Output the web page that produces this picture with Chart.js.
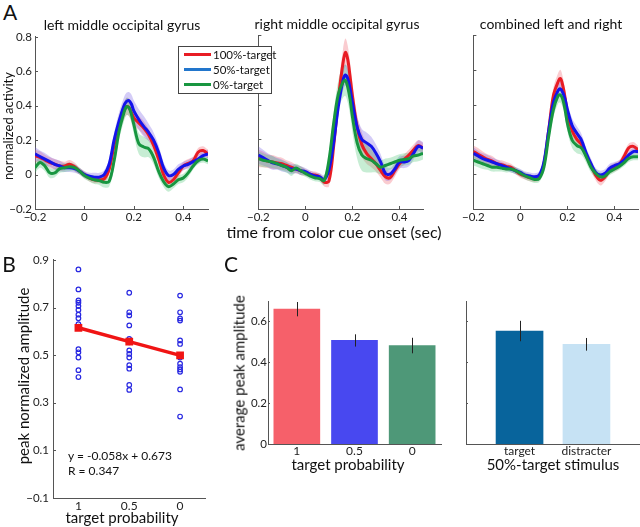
<!DOCTYPE html>
<html><head><meta charset="utf-8">
<script src="https://cdn.jsdelivr.net/npm/chart.js@4/dist/chart.umd.min.js"></script>
<style>
html,body{margin:0;padding:0;background:#fff;}
#wrap{position:relative;width:640px;height:527px;overflow:hidden;font-family:Lato,"Open Sans",sans-serif;color:#111;}
canvas{position:absolute;}
.t{position:absolute;white-space:nowrap;line-height:1;transform:translate(-50%,-50%);}
.r{transform:translate(-50%,-50%) rotate(-90deg);}
.l{position:absolute;white-space:nowrap;line-height:1;transform:translate(0,-50%);}
#legend{position:absolute;left:178px;top:46px;width:94px;height:48px;box-sizing:border-box;border:1px solid #444;background:#fff;z-index:10;}
#legend .e{position:absolute;left:0;height:14px;width:94px;}
#legend .sw{position:absolute;left:5px;top:5px;width:27px;height:3px;}
#legend .tx{position:absolute;left:34px;top:0;font-size:11.5px;line-height:14px;white-space:nowrap;}
</style></head>
<body><div id="wrap">
<canvas id="aL"></canvas><canvas id="aM"></canvas><canvas id="aR"></canvas>
<canvas id="bS"></canvas><canvas id="cL"></canvas><canvas id="cR"></canvas>

<div class="t" style="left:10px;top:11px;font-size:21px;">A</div>
<div class="t" style="left:9px;top:263px;font-size:21px;">B</div>
<div class="t" style="left:231px;top:263px;font-size:21px;">C</div>
<div class="t" style="left:122px;top:25px;font-size:14px;">left middle occipital gyrus</div>
<div class="t" style="left:337px;top:24px;font-size:14px;">right middle occipital gyrus</div>
<div class="t" style="left:551px;top:24px;font-size:14px;">combined left and right</div>
<div class="t r" style="left:8px;top:126px;font-size:13px;">normalized activity</div>
<div class="t" style="left:334px;top:232px;font-size:16px;">time from color cue onset (sec)</div>
<div class="t r" style="left:23px;top:376px;font-size:15px;">peak normalized amplitude</div>
<div class="t" style="left:122px;top:517px;font-size:15px;">target probability</div>
<div class="l" style="left:68px;top:456px;font-size:12px;">y = -0.058x + 0.673</div>
<div class="l" style="left:68px;top:471px;font-size:12px;">R = 0.347</div>
<div class="t r" style="left:239px;top:373px;font-size:15px;">average peak amplitude</div>
<div class="t" style="left:348px;top:464px;font-size:15px;">target probability</div>
<div class="t" style="left:553px;top:464px;font-size:15px;">50%-target stimulus</div>

<div id="legend">
 <div class="e" style="top:1px"><span class="sw" style="background:rgb(232,28,36)"></span><span class="tx">100%-target</span></div>
 <div class="e" style="top:16px"><span class="sw" style="background:rgb(34,118,204)"></span><span class="tx">50%-target</span></div>
 <div class="e" style="top:31px"><span class="sw" style="background:rgb(24,150,64)"></span><span class="tx">0%-target</span></div>
</div>
</div>
<script>
// ---------- DATA ----------
const T = [-0.2,-0.18,-0.16,-0.14,-0.12,-0.1,-0.08,-0.06,-0.04,-0.02,
           0,0.02,0.04,0.06,0.08,0.1,0.12,0.14,0.16,0.17,
           0.18,0.19,0.2,0.22,0.24,0.26,0.28,0.3,0.32,0.34,
           0.36,0.38,0.4,0.42,0.44,0.46,0.48,0.5];
const timeTicks = [-0.2, 0, 0.2, 0.4];
const activityTicks = [-0.2, 0, 0.2, 0.4, 0.6, 0.8];

const leftRed = [0.11,0.10,0.085,0.07,0.06,0.05,0.05,0.06,0.045,0.02,
  0.0,-0.02,-0.03,-0.03,-0.025,0.03,0.17,0.29,0.37,0.395,
  0.39,0.36,0.33,0.30,0.27,0.23,0.17,0.09,0.0,-0.045,
  -0.03,0.01,0.05,0.065,0.08,0.13,0.14,0.12];
const leftBlue = [0.12,0.105,0.09,0.075,0.06,0.05,0.04,0.04,0.035,0.02,
  0.0,-0.01,-0.015,-0.015,0.0,0.06,0.2,0.31,0.40,0.425,
  0.43,0.41,0.37,0.32,0.28,0.245,0.2,0.13,0.04,-0.005,
  0.0,0.03,0.05,0.06,0.075,0.09,0.11,0.12];
const leftGreen = [0.04,0.07,0.05,0.01,0.01,0.035,0.04,0.045,0.04,0.02,
  -0.005,-0.02,-0.03,-0.035,-0.045,-0.04,0.08,0.25,0.36,0.395,
  0.39,0.35,0.29,0.18,0.16,0.15,0.1,0.02,-0.04,-0.07,
  -0.055,-0.03,-0.02,0.01,0.05,0.08,0.09,0.08];
const leftRedSem = [.035,.035,.03,.03,.03,.03,.025,.025,.025,.02, .02,.02,.02,.02,.025,.03,.04,.05,.05,.05, .05,.05,.045,.04,.04,.035,.035,.035,.035,.03, .03,.03,.025,.025,.025,.025,.025,.025];
const leftBlueSem = [.04,.035,.035,.03,.03,.03,.025,.025,.025,.02, .02,.02,.025,.025,.025,.03,.04,.05,.05,.05, .05,.055,.06,.06,.06,.05,.045,.04,.035,.03, .03,.03,.025,.025,.025,.025,.025,.025];
const leftGreenSem = [.03,.03,.03,.03,.025,.025,.025,.025,.02,.02, .02,.02,.025,.025,.03,.03,.04,.05,.05,.05, .05,.05,.055,.06,.06,.05,.04,.035,.03,.03, .025,.025,.025,.025,.02,.02,.02,.02];

const midRed = [0.09,0.085,0.075,0.07,0.065,0.06,0.05,0.04,0.03,0.02,
  0.01,0.0,-0.005,-0.015,-0.045,-0.04,0.16,0.43,0.64,0.70,
  0.66,0.56,0.45,0.27,0.17,0.12,0.09,0.06,0.02,-0.015,
  -0.02,0.02,0.06,0.085,0.11,0.14,0.165,0.15];
const midBlue = [0.11,0.095,0.08,0.065,0.06,0.05,0.04,0.03,0.03,0.02,
  0.015,0.0,-0.01,-0.015,-0.03,0.025,0.18,0.39,0.54,0.57,
  0.55,0.49,0.41,0.27,0.2,0.18,0.16,0.12,0.07,0.005,
  0.0,0.03,0.07,0.07,0.08,0.12,0.16,0.15];
const midGreen = [0.09,0.08,0.075,0.07,0.06,0.05,0.04,0.02,0.035,0.02,
  0.005,-0.01,-0.02,-0.025,-0.035,0.08,0.29,0.46,0.53,0.54,
  0.50,0.43,0.33,0.18,0.11,0.09,0.08,0.06,0.04,0.05,
  0.06,0.07,0.08,0.085,0.09,0.105,0.11,0.12];
const midRedSem = [.05,.045,.04,.04,.035,.035,.03,.03,.025,.025, .02,.02,.02,.02,.025,.03,.05,.07,.08,.08, .08,.08,.075,.07,.07,.06,.05,.045,.04,.04, .035,.035,.03,.03,.03,.03,.03,.03];
const midBlueSem = [.05,.045,.04,.04,.035,.035,.03,.03,.025,.025, .02,.02,.02,.02,.025,.03,.05,.06,.06,.06, .06,.06,.06,.06,.06,.06,.055,.05,.045,.04, .035,.035,.035,.035,.035,.035,.035,.035];
const midGreenSem = [.04,.04,.035,.035,.03,.03,.03,.03,.025,.025, .02,.02,.02,.02,.025,.04,.06,.08,.09,.09, .09,.09,.09,.09,.09,.08,.07,.05,.04,.04, .035,.035,.035,.035,.035,.035,.035,.035];

const combRed = [0.13,0.115,0.1,0.085,0.075,0.06,0.055,0.045,0.04,0.02,
  0.0,-0.01,-0.02,-0.025,-0.015,0.06,0.25,0.45,0.53,0.55,
  0.51,0.44,0.35,0.25,0.2,0.17,0.11,0.05,-0.005,-0.035,
  -0.015,0.025,0.04,0.055,0.1,0.15,0.16,0.14];
const combBlue = [0.12,0.105,0.09,0.08,0.07,0.06,0.05,0.04,0.03,0.02,
  0.01,-0.005,-0.01,-0.015,-0.005,0.07,0.25,0.41,0.48,0.49,
  0.47,0.43,0.37,0.28,0.235,0.195,0.12,0.06,0.01,-0.005,
  0.005,0.035,0.05,0.06,0.08,0.11,0.13,0.13];
const combGreen = [0.08,0.07,0.06,0.05,0.04,0.04,0.035,0.03,0.03,0.02,
  0.005,-0.01,-0.02,-0.03,-0.025,0.04,0.215,0.37,0.45,0.456,
  0.43,0.37,0.29,0.195,0.165,0.15,0.1,0.04,0.005,-0.015,
  -0.01,0.015,0.03,0.045,0.065,0.09,0.1,0.1];
const combRedSem = [.035,.035,.03,.03,.03,.025,.025,.025,.02,.02, .02,.02,.02,.02,.02,.025,.035,.045,.05,.05, .05,.045,.04,.035,.035,.03,.03,.03,.03,.03, .025,.025,.025,.025,.025,.025,.025,.025];
const combBlueSem = [.035,.03,.03,.03,.025,.025,.02,.02,.02,.02, .02,.02,.02,.02,.02,.025,.035,.04,.04,.04, .04,.04,.04,.04,.04,.035,.03,.03,.025,.025, .025,.025,.02,.02,.02,.02,.02,.02];
const combGreenSem = [.03,.03,.03,.025,.025,.025,.02,.02,.02,.02, .02,.02,.02,.02,.02,.025,.035,.045,.045,.045, .045,.045,.045,.045,.045,.04,.035,.03,.025,.025, .02,.02,.02,.02,.02,.02,.02,.02];

// Panel B
const probPositions = [1, 2, 3];
const probLabels = ['1', '0.5', '0'];
const peakProb100 = [0.86,0.776,0.73,0.72,0.706,0.69,0.67,0.655,0.63,0.62,0.525,0.512,0.49,0.437,0.408];
const peakProb50 = [0.762,0.68,0.667,0.625,0.568,0.554,0.52,0.505,0.49,0.458,0.443,0.375,0.354];
const peakProb0 = [0.75,0.68,0.654,0.645,0.562,0.547,0.5,0.49,0.464,0.45,0.44,0.43,0.356,0.242];
const fitLine = [0.615, 0.557, 0.499];
const peakTicks = [-0.1, 0.1, 0.3, 0.5, 0.7, 0.9];

// Panel C
const cLeftLabels = ['1', '0.5', '0'];
const cLeftVals = [0.66, 0.507, 0.482];
const cLeftErr = [0.035, 0.03, 0.038];
const cRightPos = [1, 2];
const cRightLabels = ['target', 'distracter'];
const cRightVals = [0.553, 0.488];
const cRightErr = [0.05, 0.031];
const ampTicks = [0, 0.2, 0.4, 0.6];

// ---------- STYLE ----------
const RED = 'rgb(232,28,36)', BLUE = 'rgb(20,20,235)', GREEN = 'rgb(24,150,64)';
const RED_B = 'rgba(240,110,120,0.35)', BLUE_B = 'rgba(120,95,230,0.32)', GREEN_B = 'rgba(80,200,120,0.32)';
const AX = '#555';
Chart.defaults.font.family = 'Lato, "Open Sans", sans-serif';
Chart.defaults.font.size = 11;
Chart.defaults.color = '#222';
Chart.defaults.animation = false;

const fmt = v => { const s = (Math.round(v*10)/10).toString(); return s.replace('-', '\u2212'); };

const inTicks = {
  id: 'inTicks',
  afterDraw(chart) {
    const ctx = chart.ctx, ca = chart.chartArea;
    ctx.save(); ctx.strokeStyle = AX; ctx.lineWidth = 1;
    for (const s of Object.values(chart.scales)) {
      const len = s.options.inTickLen;
      if (!len) continue;
      for (const t of s.ticks) {
        const p = Math.round(s.getPixelForValue(t.value)) + 0.5;
        ctx.beginPath();
        if (s.isHorizontal()) { ctx.moveTo(p, ca.bottom); ctx.lineTo(p, ca.bottom - len); }
        else { ctx.moveTo(ca.left, p); ctx.lineTo(ca.left + len, p); }
        ctx.stroke();
      }
    }
    ctx.restore();
  }
};
const errBars = {
  id: 'errBars',
  afterDatasetsDraw(chart) {
    const ctx = chart.ctx;
    chart.data.datasets.forEach((ds, i) => {
      if (!ds.err) return;
      const meta = chart.getDatasetMeta(i), ys = chart.scales[meta.yAxisID];
      meta.data.forEach((el, j) => {
        const v = ds.vals[j], e = ds.err[j];
        const x = Math.round(el.x) + 0.5;
        ctx.save(); ctx.strokeStyle = '#222'; ctx.lineWidth = 1;
        ctx.beginPath(); ctx.moveTo(x, ys.getPixelForValue(v - e)); ctx.lineTo(x, ys.getPixelForValue(v + e)); ctx.stroke();
        ctx.restore();
      });
    });
  }
};

function place(id, plot, pad) {
  const c = document.getElementById(id);
  const W = plot.w + pad.l + pad.r, H = plot.h + pad.t + pad.b;
  c.width = W; c.height = H;
  c.style.width = W + 'px'; c.style.height = H + 'px';
  c.style.left = (plot.l - pad.l) + 'px'; c.style.top = (plot.t - pad.t) + 'px';
  return c;
}
function scaleBase(pad, isX, extra) {
  return Object.assign({
    grid: { display: false, drawTicks: false, tickLength: 0 },
    border: { display: true, color: AX, width: 1 },
    afterFit: s => { if (isX) s.height = pad.b; else s.width = pad.l; }
  }, extra);
}

function panelA(id, plot, pad, red, blue, green, sr, sb, sg, showY) {
  place(id, plot, pad);
  const pts = arr => T.map((t, i) => ({ x: t, y: arr[i] }));
  const lo = (a, s) => T.map((t, i) => ({ x: t, y: a[i] - s[i] }));
  const hi = (a, s) => T.map((t, i) => ({ x: t, y: a[i] + s[i] }));
  const line = (d, c) => ({ data: d, borderColor: c, borderWidth: 3, pointRadius: 0, tension: 0.35, fill: false, order: 0 });
  const band = (d, c, f) => ({ data: d, borderWidth: 0, borderColor: 'rgba(0,0,0,0)', backgroundColor: c, pointRadius: 0, tension: 0.35, fill: f, order: 1 });
  new Chart(document.getElementById(id), {
    type: 'line',
    data: { datasets: [
      line(pts(green), GREEN), line(pts(blue), BLUE), line(pts(red), RED),
      band(lo(green, sg), GREEN_B, false), band(hi(green, sg), GREEN_B, 3),
      band(lo(blue, sb), BLUE_B, false), band(hi(blue, sb), BLUE_B, 5),
      band(lo(red, sr), RED_B, false), band(hi(red, sr), RED_B, 7)
    ]},
    options: {
      responsive: false, events: [],
      layout: { padding: { top: pad.t, right: pad.r, left: 0, bottom: 0 } },
      plugins: { legend: { display: false }, tooltip: { enabled: false } },
      scales: {
        x: scaleBase(pad, true, { type: 'linear', min: -0.2, max: 0.5, inTickLen: 3,
          afterBuildTicks: s => { s.ticks = timeTicks.map(v => ({ value: v })); },
          ticks: { padding: 1, maxRotation: 0, callback: v => fmt(v), font: { size: 11.5 } } }),
        y: scaleBase(pad, false, { type: 'linear', min: -0.2, max: 0.8, inTickLen: 3,
          afterBuildTicks: s => { s.ticks = activityTicks.map(v => ({ value: v })); },
          ticks: { display: showY, padding: 3, callback: v => fmt(v), font: { size: 11.5 } } })
      }
    },
    plugins: [inTicks]
  });
}

panelA('aL', { l: 35, t: 35, w: 173, h: 174 }, { l: 35, t: 8, r: 4, b: 18 }, leftRed, leftBlue, leftGreen, leftRedSem, leftBlueSem, leftGreenSem, true);
panelA('aM', { l: 250, t: 35, w: 173, h: 174 }, { l: 4, t: 8, r: 4, b: 18 }, midRed, midBlue, midGreen, midRedSem, midBlueSem, midGreenSem, false);
panelA('aR', { l: 465, t: 35, w: 173, h: 174 }, { l: 4, t: 8, r: 2, b: 18 }, combRed, combBlue, combGreen, combRedSem, combBlueSem, combGreenSem, false);

// ---------- Panel B ----------
(function () {
  const plot = { l: 53, t: 257, w: 156, h: 241 }, pad = { l: 40, t: 8, r: 4, b: 16 };
  place('bS', plot, pad);
  const col = (x, arr) => arr.map(y => ({ x, y }));
  const dot = d => ({ type: 'scatter', data: d, pointRadius: 2.3, pointBorderWidth: 1.2, pointBorderColor: 'rgb(40,40,225)', pointBackgroundColor: 'rgba(0,0,0,0)', showLine: false });
  new Chart(document.getElementById('bS'), {
    type: 'scatter',
    data: { datasets: [
      { type: 'line', data: probPositions.map((x, i) => ({ x, y: fitLine[i] })), borderColor: 'rgb(240,20,20)', borderWidth: 3.5,
        pointStyle: 'rect', pointRadius: 3, pointBackgroundColor: 'rgb(240,20,20)', pointBorderColor: 'rgb(240,20,20)', tension: 0, fill: false },
      dot(col(probPositions[0], peakProb100)), dot(col(probPositions[1], peakProb50)), dot(col(probPositions[2], peakProb0))
    ]},
    options: {
      responsive: false, events: [],
      layout: { padding: { top: pad.t, right: pad.r, left: 0, bottom: 0 } },
      plugins: { legend: { display: false }, tooltip: { enabled: false } },
      scales: {
        x: scaleBase(pad, true, { type: 'linear', min: 0.5, max: 3.5,
          afterBuildTicks: s => { s.ticks = probPositions.map(v => ({ value: v })); },
          ticks: { padding: 1, maxRotation: 0, callback: v => probLabels[probPositions.indexOf(v)], font: { size: 12 } } }),
        y: scaleBase(pad, false, { type: 'linear', min: -0.1, max: 0.9, inTickLen: 3,
          afterBuildTicks: s => { s.ticks = peakTicks.map(v => ({ value: v })); },
          ticks: { padding: 4, callback: v => fmt(v), font: { size: 11.5 } } })
      }
    },
    plugins: [inTicks]
  });
})();

// ---------- Panel C ----------
(function () {
  const plot = { l: 268, t: 301, w: 173, h: 143 }, pad = { l: 30, t: 8, r: 4, b: 14 };
  place('cL', plot, pad);
  new Chart(document.getElementById('cL'), {
    type: 'bar',
    data: { labels: cLeftLabels, datasets: [{ data: cLeftVals, vals: cLeftVals, err: cLeftErr,
      backgroundColor: ['rgb(246,96,106)', 'rgb(72,72,240)', 'rgb(78,152,120)'], borderWidth: 0, barThickness: 46 }] },
    options: {
      responsive: false, events: [],
      layout: { padding: { top: pad.t, right: pad.r, left: 0, bottom: 0 } },
      plugins: { legend: { display: false }, tooltip: { enabled: false } },
      scales: {
        x: scaleBase(pad, true, { ticks: { padding: 0, maxRotation: 0, font: { size: 12 } } }),
        y: scaleBase(pad, false, { type: 'linear', min: 0, max: 0.7, inTickLen: 2,
          afterBuildTicks: s => { s.ticks = ampTicks.map(v => ({ value: v })); },
          ticks: { padding: 1, callback: v => fmt(v), font: { size: 11.5 } } })
      }
    },
    plugins: [inTicks, errBars]
  });
})();
(function () {
  const plot = { l: 466, t: 301, w: 174, h: 143 }, pad = { l: 4, t: 8, r: 0, b: 14 };
  place('cR', plot, pad);
  new Chart(document.getElementById('cR'), {
    type: 'bar',
    data: { datasets: [{ data: cRightPos.map((x, i) => ({ x, y: cRightVals[i] })), vals: cRightVals, err: cRightErr,
      backgroundColor: ['rgb(8,100,156)', 'rgb(198,226,244)'], borderWidth: 0, barThickness: 47 }] },
    options: {
      responsive: false, events: [],
      layout: { padding: { top: pad.t, right: pad.r, left: 0, bottom: 0 } },
      plugins: { legend: { display: false }, tooltip: { enabled: false } },
      scales: {
        x: scaleBase(pad, true, { type: 'linear', min: 0.2, max: 2.8, offset: false,
          afterBuildTicks: s => { s.ticks = cRightPos.map(v => ({ value: v })); },
          ticks: { padding: 0, maxRotation: 0, callback: v => cRightLabels[cRightPos.indexOf(v)], font: { size: 12 } } }),
        y: scaleBase(pad, false, { type: 'linear', min: 0, max: 0.7, inTickLen: 2,
          afterBuildTicks: s => { s.ticks = ampTicks.map(v => ({ value: v })); },
          ticks: { display: false } })
      }
    },
    plugins: [inTicks, errBars]
  });
})();
</script>
</body></html>
